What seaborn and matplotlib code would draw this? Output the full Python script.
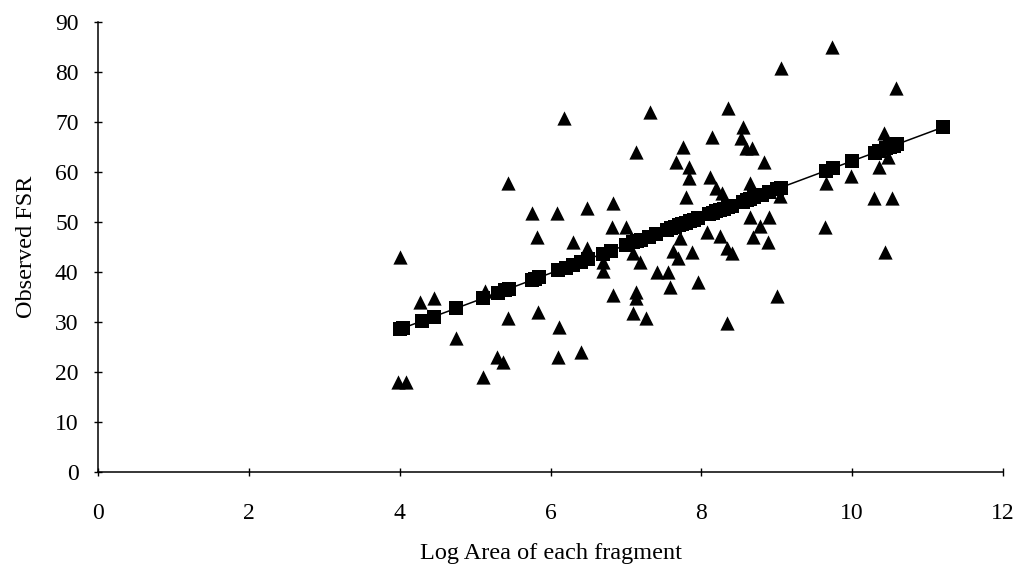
import matplotlib
matplotlib.use("Agg")
import matplotlib.pyplot as plt
import pandas as pd
import seaborn as sns

# Observed fragment values: log area vs. observed FSR
obs_log_area = [
    3.98, 4.08, 4.01, 4.27, 4.45, 4.75, 5.10, 5.13, 5.29, 5.37,
    5.44, 5.43, 5.75, 5.82, 5.84, 6.09, 6.11, 6.10, 6.18, 6.30,
    6.41, 6.49, 6.48, 6.69, 6.69, 6.83, 6.82, 6.83, 7.00, 7.10,
    7.13, 7.14, 7.14, 7.18, 7.09, 7.27, 7.32, 7.41, 7.56, 7.59,
    7.63, 7.67, 7.69, 7.72, 7.76, 7.80, 7.83, 7.84, 7.88, 7.95,
    8.08, 8.11, 8.14, 8.19, 8.25, 8.27, 8.34, 8.35, 8.34, 8.40,
    8.53, 8.55, 8.59, 8.67, 8.64, 8.64, 8.69, 8.78, 8.83, 8.89,
    8.90, 9.00, 9.04, 9.06, 9.64, 9.65, 9.73, 9.98, 10.29, 10.35,
    10.42, 10.47, 10.44, 10.53, 10.58,
]
obs_fsr = [
    17.9, 17.9, 42.9, 33.9, 34.7, 26.7, 18.9, 36.1, 22.9, 21.9,
    30.7, 57.7, 51.7, 46.9, 31.9, 51.7, 28.9, 22.9, 70.7, 45.9,
    23.9, 52.7, 44.7, 41.9, 40.1, 53.7, 48.9, 35.4, 48.9, 43.7,
    63.9, 36.0, 34.7, 41.9, 31.7, 30.7, 71.9, 39.9, 39.9, 37.0,
    44.1, 61.9, 42.7, 46.7, 64.9, 54.9, 60.9, 58.7, 43.9, 37.9,
    47.9, 58.9, 66.9, 56.7, 47.1, 55.7, 44.7, 72.7, 29.7, 43.7,
    66.7, 68.9, 64.7, 64.7, 57.7, 50.9, 46.9, 49.1, 61.9, 45.9,
    50.9, 35.2, 55.1, 80.7, 48.9, 57.7, 84.9, 59.1, 54.7, 60.9,
    67.7, 62.9, 43.9, 54.7, 76.7,
]

# Predicted FSR along the fitted relationship
pred_log_area = [
    4.00, 4.05, 4.30, 4.45, 4.75, 5.10, 5.30, 5.40, 5.45, 5.75,
    5.80, 5.85, 6.10, 6.20, 6.30, 6.40, 6.50, 6.70, 6.80, 7.00,
    7.10, 7.15, 7.20, 7.30, 7.40, 7.55, 7.60, 7.65, 7.70, 7.75,
    7.80, 7.85, 7.90, 7.95, 8.10, 8.15, 8.20, 8.25, 8.30, 8.35,
    8.40, 8.55, 8.60, 8.65, 8.70, 8.80, 8.90, 9.00, 9.05, 9.65,
    9.75, 10.00, 10.30, 10.35, 10.45, 10.50, 10.55, 10.60, 11.20,
]
pred_fsr = [
    28.54, 28.82, 30.22, 31.06, 32.75, 34.71, 35.83, 36.39, 36.67, 38.36,
    38.64, 38.92, 40.32, 40.88, 41.44, 42.00, 42.57, 43.69, 44.25, 45.37,
    45.93, 46.21, 46.49, 47.05, 47.61, 48.46, 48.74, 49.02, 49.30, 49.58,
    49.86, 50.14, 50.42, 50.70, 51.54, 51.82, 52.10, 52.38, 52.66, 52.94,
    53.22, 54.07, 54.35, 54.63, 54.91, 55.47, 56.03, 56.59, 56.87, 60.24,
    60.80, 62.20, 63.88, 64.16, 64.72, 65.01, 65.29, 65.57, 68.93,
]

x_ticks = [0, 2, 4, 6, 8, 10, 12]
y_ticks = [0, 10, 20, 30, 40, 50, 60, 70, 80, 90]

obs = pd.DataFrame({"log_area": obs_log_area, "fsr": obs_fsr})
pred = pd.DataFrame({"log_area": pred_log_area, "fsr": pred_fsr})

sns.set_theme(style="white")
plt.rcParams["font.family"] = ["Liberation Serif", "DejaVu Serif"]

fig = plt.figure(figsize=(10.19, 5.71), dpi=100)
ax = fig.add_axes([0.0962, 0.1734, 0.8881, 0.7881])

sns.lineplot(data=pred, x="log_area", y="fsr", color="black", linewidth=1.1,
             sort=True, estimator=None, ax=ax)
sns.scatterplot(data=pred, x="log_area", y="fsr", marker="s", s=95,
                color="black", edgecolor="black", linewidth=0, ax=ax, zorder=3)
sns.scatterplot(data=obs, x="log_area", y="fsr", marker="^", s=105,
                color="black", edgecolor="black", linewidth=0, ax=ax, zorder=4)

ax.set_xlim(0, 12)
ax.set_ylim(0, 90)
ax.set_xticks(x_ticks)
ax.set_yticks(y_ticks)
ax.set_xticklabels([str(t) for t in x_ticks])
ax.set_yticklabels([str(t) for t in y_ticks])

for side in ("top", "right"):
    ax.spines[side].set_visible(False)
for side in ("left", "bottom"):
    ax.spines[side].set_color("black")
    ax.spines[side].set_linewidth(1.1)

ax.tick_params(axis="both", which="major", direction="inout", length=6,
               width=1.0, color="black", labelsize=17, labelcolor="black",
               bottom=True, left=True)
ax.tick_params(axis="y", pad=11)
ax.tick_params(axis="x", pad=19)

ax.set_xlabel("Log Area of each fragment", fontsize=17.5, color="black", labelpad=14)
ax.set_ylabel("Observed FSR", fontsize=17.5, color="black", labelpad=13)

fig.savefig("out.png", dpi=100, facecolor="white")
